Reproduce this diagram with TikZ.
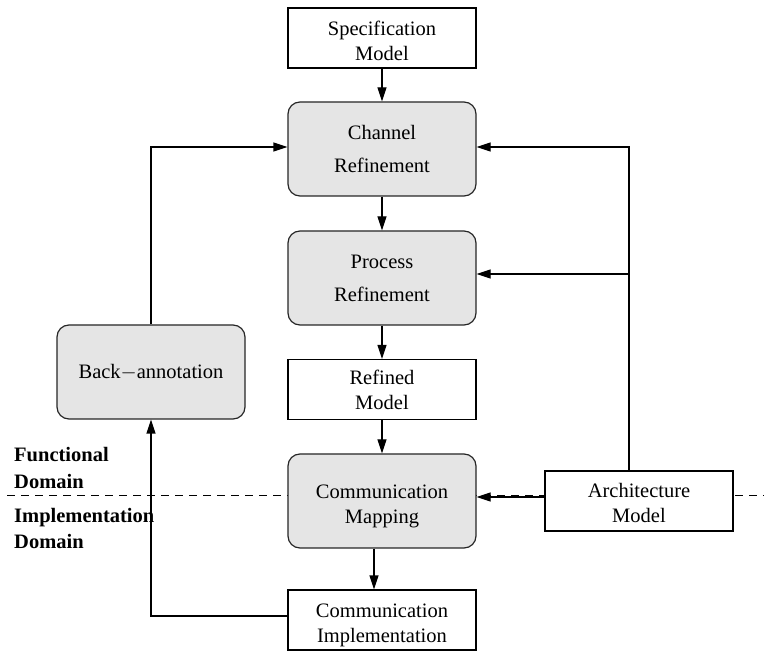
\documentclass[tikz,border=0pt]{standalone}
\usepackage{fontspec}
\setmainfont{Liberation Serif}
\usetikzlibrary{arrows.meta}
% invisible strut that lowers a box's text block
\newcommand{\lowerby}[1]{\rule{0pt}{#1}}
\begin{document}
\begin{tikzpicture}[x=1pt,y=-1pt,
  every node/.style={font=\fontsize{20.5}{25}\selectfont, align=center, inner sep=0pt},
  plainbox/.style={draw=black, fill=white, line width=1.2pt,
    minimum width=188pt, minimum height=60pt},
  stagebox/.style={draw=black!85, fill=gray!20, rounded corners=12pt, line width=1.2pt,
    minimum width=188pt, minimum height=94pt},
  flow/.style={draw=black, line width=1.2pt, -{Triangle[length=14pt,width=9pt]}},
  domainlabel/.style={font=\fontsize{20.5}{25}\selectfont\bfseries, anchor=base west},
  divider/.style={draw=black, line width=1pt, dash pattern=on 8pt off 6pt}]

\useasboundingbox (0,0) rectangle (764,652);

% boundary between the two design domains
\coordinate (divL) at (7,496);
\coordinate (divR) at (764,496);
\draw[divider] (divL) -- (divR);

\node[domainlabel] (fun1) at (14,462) {Functional};
\node[domainlabel] (fun2) at (14,489) {Domain};
\node[domainlabel] (imp1) at (14,523) {Implementation};
\node[domainlabel] (imp2) at (14,548) {Domain};

% main design flow
\node[plainbox] (spec) at (382,38) {\lowerby{20pt}Specification\\Model};
\node[stagebox] (chan) at (382,149) {Channel\\[8pt]Refinement};
\node[stagebox] (proc) at (382,278) {Process\\[8pt]Refinement};
\node[plainbox] (refined) at (382,389.5) {Refined\\Model};
\node[stagebox] (mapping) at (382,501) {\lowerby{24pt}Communication\\Mapping};
\node[plainbox] (impl) at (382,620) {\lowerby{25pt}Communication\\Implementation};

\node[stagebox] (back) at (151,372) {Back$-$annotation};
\node[plainbox] (arch) at (639,501) {\lowerby{19pt}Architecture\\Model};

\draw[flow] (spec) -- (chan);
\draw[flow] (chan) -- (proc);
\draw[flow] (proc) -- (refined);
\draw[flow] (refined) -- (mapping);
\draw[flow] ([xshift=-8pt]mapping.south) -- ([xshift=-8pt]impl.north);

% back-annotation loop
\draw[flow] ([yshift=4pt]impl.west) -| (back.south);
\draw[flow] (back.north) |- ([yshift=2pt]chan.west);

% architecture model inputs
\coordinate (tap) at (629,274);
\draw[flow] ([xshift=-10pt]arch.north) |- ([yshift=2pt]chan.east);
\draw[flow] (tap) -- (proc.east |- tap);
\draw[flow] ([yshift=4pt]arch.west) -- ([yshift=4pt]mapping.east);
\end{tikzpicture}
\end{document}
